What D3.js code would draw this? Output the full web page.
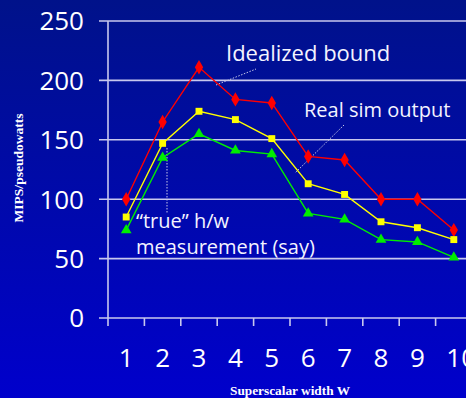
<!DOCTYPE html>
<html>
<head>
<meta charset="utf-8">
<script src="https://cdn.jsdelivr.net/npm/d3@7"></script>
<style>
  html, body { margin: 0; padding: 0; overflow: hidden; }
  svg { display: block; }
</style>
</head>
<body>
<script>
// Superscalar width sweep: MIPS per pseudowatt
const widths = [1, 2, 3, 4, 5, 6, 7, 8, 9, 10];
const idealized = [100, 165, 211, 184, 181, 136, 133, 100, 100, 74];
const realSim   = [85, 147, 174, 167, 151, 113, 104, 81, 76, 66];
const trueHw    = [74, 135, 155, 141, 138, 88, 83, 66, 64, 51];
const yTicks = [0, 50, 100, 150, 200, 250];

const W = 466, H = 398;
const svg = d3.select("body").append("svg").attr("width", W).attr("height", H);

// backdrop gradient, dark navy at top to bright blue at bottom
const defs = svg.append("defs");
const grad = defs.append("linearGradient").attr("id", "bg")
  .attr("x1", 0).attr("y1", 0).attr("x2", 0).attr("y2", 1);
grad.append("stop").attr("offset", "0%").attr("stop-color", "#00128a");
grad.append("stop").attr("offset", "100%").attr("stop-color", "#0000cc");
svg.append("rect").attr("width", W).attr("height", H).attr("fill", "url(#bg)");

const x = d3.scaleBand().domain(widths).range([108, 472]).padding(0);
const y = d3.scaleLinear().domain([0, 250]).range([318, 21]);
const cx = d => x(d) + x.bandwidth() / 2;

const gridColor = "#c8c8ee";
const numFont = "'Open Sans', sans-serif";

// horizontal gridlines with short ticks poking left of the axis
svg.append("g").selectAll("line").data(yTicks).join("line")
  .attr("x1", 99).attr("x2", W)
  .attr("y1", d => y(d)).attr("y2", d => y(d))
  .attr("stroke", gridColor).attr("stroke-width", 1.6);

// y-axis line
svg.append("line")
  .attr("x1", 108).attr("x2", 108).attr("y1", y(250)).attr("y2", 326)
  .attr("stroke", gridColor).attr("stroke-width", 1.6);

// x ticks at category boundaries
svg.append("g").selectAll("line").data(widths.slice(1)).join("line")
  .attr("x1", d => x(d)).attr("x2", d => x(d))
  .attr("y1", 318).attr("y2", 326)
  .attr("stroke", gridColor).attr("stroke-width", 1.6);

// y tick labels
svg.append("g").selectAll("text").data(yTicks).join("text")
  .attr("x", 84).attr("y", d => y(d))
  .attr("dy", "0.36em")
  .attr("text-anchor", "end")
  .attr("font-family", numFont).attr("font-size", 26)
  .attr("fill", "#ffffff")
  .text(d => d);

// x tick labels: the leading digit sits centred under its category
const xLabels = svg.append("g").selectAll("text").data(widths).join("text")
  .attr("y", 367)
  .attr("text-anchor", "start")
  .attr("font-family", numFont).attr("font-size", 26)
  .attr("fill", "#ffffff")
  .text(d => d);
xLabels.attr("x", function (d) {
  const first = this.getSubStringLength(0, 1);
  return cx(d) - first / 2;
});

// axis titles
svg.append("text")
  .attr("transform", "translate(23,168) rotate(-90)")
  .attr("text-anchor", "middle")
  .attr("font-family", "'Liberation Serif', serif").attr("font-weight", "bold")
  .attr("font-size", 13.5).attr("fill", "#ffffff")
  .text("MIPS/pseudowatts");

svg.append("text")
  .attr("x", 290).attr("y", 395)
  .attr("text-anchor", "middle")
  .attr("font-family", "'Liberation Serif', serif").attr("font-weight", "bold")
  .attr("font-size", 13.3).attr("fill", "#ffffff")
  .text("Superscalar width W");

// leader lines from annotations to their series
const leader = "#c8c8e8";
const leaders = [
  [216, 85, 256, 69],
  [344, 125, 295, 173],
  [167, 148, 167, 213]
];
svg.append("g").selectAll("line").data(leaders).join("line")
  .attr("x1", d => d[0]).attr("y1", d => d[1])
  .attr("x2", d => d[2]).attr("y2", d => d[3])
  .attr("stroke", leader).attr("stroke-width", 1)
  .attr("stroke-dasharray", "1.5,1.5");

// series
const series = [
  { name: "Idealized bound", values: idealized, color: "#ff0000", symbol: d3.symbolDiamond, size: 60 },
  { name: "Real sim output", values: realSim, color: "#ffff00", symbol: d3.symbolSquare, size: 48 },
  { name: "“true” h/w measurement (say)", values: trueHw, color: "#00ee00", symbol: d3.symbolTriangle, size: 50 }
];

const line = d3.line()
  .x((d, i) => cx(widths[i]))
  .y(d => y(d));

series.forEach(s => {
  svg.append("path")
    .attr("d", line(s.values))
    .attr("fill", "none")
    .attr("stroke", s.color)
    .attr("stroke-width", 1.4);
  svg.append("g").selectAll("path").data(s.values).join("path")
    .attr("transform", (d, i) => `translate(${cx(widths[i])},${y(d)})`)
    .attr("d", d3.symbol().type(s.symbol).size(s.size))
    .attr("fill", s.color);
});

// annotation texts
const noteFont = "'Open Sans', sans-serif";
svg.append("text")
  .attr("x", 226).attr("y", 61)
  .attr("font-family", noteFont).attr("font-size", 22)
  .attr("fill", "#f4f4ff")
  .text("Idealized bound");

svg.append("text")
  .attr("x", 304).attr("y", 117)
  .attr("font-family", noteFont).attr("font-size", 20)
  .attr("fill", "#f4f4ff")
  .text("Real sim output");

const trueNote = svg.append("text")
  .attr("font-family", noteFont).attr("font-size", 20)
  .attr("fill", "#f4f4ff");
trueNote.append("tspan").attr("x", 136).attr("y", 228).text("“true” h/w");
trueNote.append("tspan").attr("x", 136).attr("y", 254).text("measurement (say)");
</script>
</body>
</html>
